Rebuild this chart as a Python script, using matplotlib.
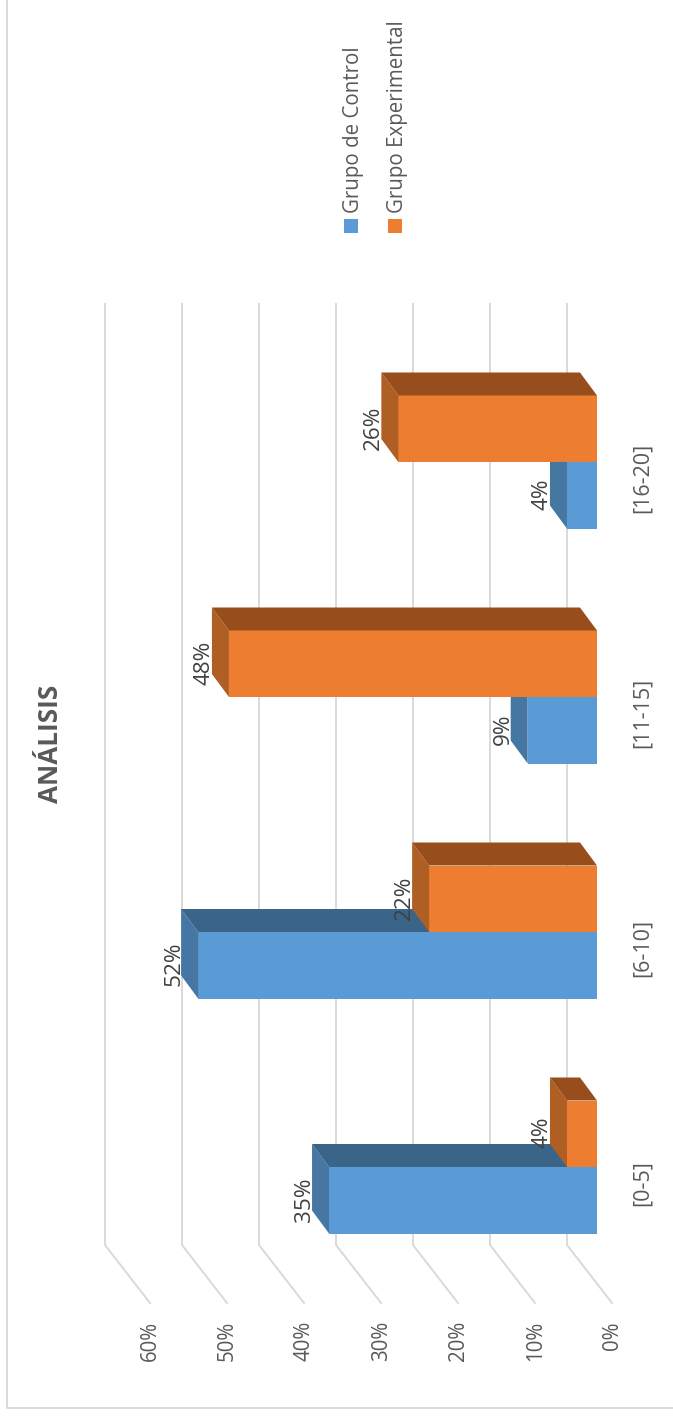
import matplotlib
matplotlib.use('Agg')
import matplotlib.pyplot as plt
from matplotlib.patches import Polygon, Rectangle

plt.rcParams['font.family'] = ['Open Sans', 'DejaVu Sans']

categories = ['[0-5]', '[6-10]', '[11-15]', '[16-20]']
control = [34.8, 51.8, 9.0, 3.9]
experimental = [3.9, 21.8, 47.8, 25.8]
control_labels = ['35%', '52%', '9%', '4%']
experimental_labels = ['4%', '22%', '48%', '26%']
ticks = [0, 10, 20, 30, 40, 50, 60]

GREY = '#595959'
GRID = '#D9D9D9'
W, H = 673, 1416

# pixels per unit on the two axes
PX_V = 7.7
PX_C = 235.0
# bar depth, in data units
DV = 17 / PX_V
DC = 23 / PX_C
BAR = 66.5 / PX_C

fig = plt.figure(figsize=(W / 100, H / 100), dpi=100)
ax = fig.add_axes([0, 0, 1, 1])
# the chart is lying on its side: value runs right to left, category bottom to top
ax.set_xlim(597 / PX_V, (597 - W) / PX_V)
ax.set_ylim((1167 - H) / PX_C, 1167 / PX_C)
ax.axis('off')


def px_x(px):
    return (597 - px) / PX_V


def px_y(py):
    return (1167 - py) / PX_C


def bar3d(c0, v, front, side, top):
    c1 = c0 + BAR
    ax.add_patch(Polygon([(0, c0), (v, c0), (v, c1), (0, c1)], fc=front, ec='none', zorder=3))
    ax.add_patch(Polygon([(v, c0), (v + DV, c0 + DC), (v + DV, c1 + DC), (v, c1)], fc=side, ec='none', zorder=3))
    ax.add_patch(Polygon([(0, c1), (v, c1), (v + DV, c1 + DC), (DV, c1 + DC)], fc=top, ec='none', zorder=3))


# outer frame
ax.plot([px_x(7), px_x(7), px_x(W)], [px_y(0), px_y(1408), px_y(1408)], color=GRID, lw=1.4, zorder=1)

# gridlines: back wall then floor
for t in ticks:
    back = t + px_x(567)
    foot = t + px_x(612)
    ax.plot([back, back, foot], [px_y(304), px_y(1245), px_y(1303)], color=GRID, lw=1.4, zorder=1,
            solid_joinstyle='miter')
    ax.text(foot - 0.2 / PX_V, px_y(1321), '%d%%' % t, rotation=90, ha='center', va='top', fontsize=14.8,
            color=GREY)

# bars, control first so the experimental bar sits over it
for i in range(len(categories)):
    c0 = i - BAR
    bar3d(c0, control[i], '#5B9BD5', '#4676A2', '#3A6488')
    bar3d(i, experimental[i], '#ED7D31', '#B05F24', '#984E1C')

for i, name in enumerate(categories):
    ax.text(px_x(642), i - 16 / PX_C, name, rotation=90, ha='center', va='center', fontsize=15.5, color=GREY)
    ax.text(control[i] + DV + 7.5 / PX_V, i - BAR / 2 + 1 / PX_C, control_labels[i], rotation=90, ha='center',
            va='center', fontsize=16.2, color='#404040', zorder=4)
    ax.text(experimental[i] + DV + 7.5 / PX_V, i + BAR / 2 + 1 / PX_C, experimental_labels[i], rotation=90,
            ha='center', va='center', fontsize=16.2, color='#404040', zorder=4)

ax.text(px_x(50), px_y(744), 'ANÁLISIS', rotation=90, ha='center', va='center', fontsize=18.8, fontweight='bold',
        color=GREY)

# legend
legend = [('Grupo de Control', '#5B9BD5', 351), ('Grupo Experimental', '#ED7D31', 395)]
for name, color, px in legend:
    ax.add_patch(Rectangle((px_x(px + 7), px_y(233)), 14 / PX_V, 14 / PX_C, fc=color, ec='none'))
    ax.text(px_x(px + 2), px_y(213), name, rotation=90, ha='center', va='bottom', fontsize=14.8, color=GREY)

fig.savefig('out.png', dpi=100, facecolor='white')
